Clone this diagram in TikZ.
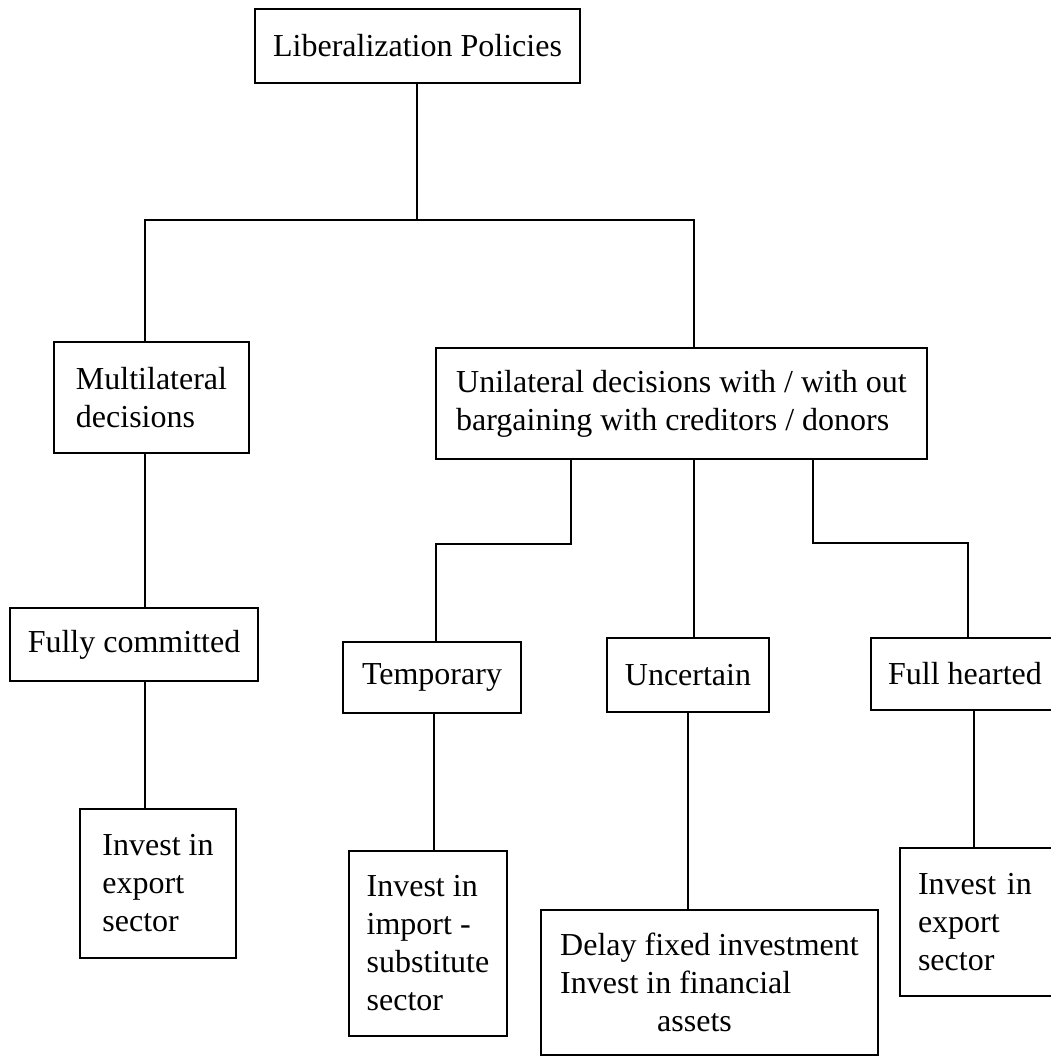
\documentclass[tikz,border=0pt]{standalone}
\usepackage{fontspec}
\setmainfont{Liberation Serif}
\begin{document}
\begin{tikzpicture}[x=0.5pt,y=-0.5pt,
  box/.style={draw, line width=1.1pt, align=left, inner sep=0pt, font=\fontsize{16}{19}\selectfont},
  conn/.style={line width=0.9pt}]
\useasboundingbox (0,0) rectangle (1051,1057);
\clip (0,0) rectangle (1051,1057);
% boxes
\node[box, align=center, minimum width=162.5pt, minimum height=37pt] (top) at (417.5,46) {Liberalization Policies};
\node[box, minimum width=97.5pt, minimum height=55.5pt] (mult) at (151.5,397.5) {Multilateral\\decisions};
\node[box, minimum width=245.5pt, minimum height=55.5pt] (uni) at (681.5,403.5) {Unilateral decisions with / with out\\bargaining with creditors / donors};
\node[box, minimum width=124pt, minimum height=36.5pt] (fully) at (134,644.5) {Fully committed};
\node[box, minimum width=89pt, minimum height=35.5pt] (temp) at (432,677.5) {Temporary};
\node[box, minimum width=81pt, minimum height=37pt] (unc) at (688,675) {Uncertain};
\node[box, minimum width=94pt, minimum height=36pt] (full) at (965,674) {Full hearted};
\node[box, minimum width=78pt, minimum height=74.5pt] (inv1) at (158,883.5) {Invest in\\export\\sector};
\node[box, minimum width=79pt, minimum height=92.5pt] (inv2) at (428,943.5) {Invest in\\import -\\substitute\\sector};
\node[box, minimum width=168.5pt, minimum height=72.5pt] (delay) at (709.5,982.5) {Delay fixed investment\\Invest in financial\\\hspace*{48.5pt}assets};
\node[box, text width=62pt, inner xsep=9pt, minimum height=74pt] (inv4) at (980,922) {Invest in\\export\\sector};
% junction coordinates
\coordinate (j) at (417,220);
\coordinate (jl) at (145,220);
\coordinate (jr) at (694,220);
\coordinate (a1) at (571,544);
\coordinate (a2) at (436,544);
\coordinate (b1) at (813,543);
\coordinate (b2) at (968,543);
\coordinate (c2) at (434,0);
\coordinate (c4) at (974,0);
% connectors
\draw[conn] (top.south -| j) -- (j);
\draw[conn] (jl |- mult.north) -- (jl) -- (jr) -- (jr |- uni.north);
\draw[conn] (jl |- mult.south) -- (jl |- fully.north);
\draw[conn] (jl |- fully.south) -- (jl |- inv1.north);
\draw[conn] (a1 |- uni.south) -- (a1) -- (a2) -- (a2 |- temp.north);
\draw[conn] (jr |- uni.south) -- (jr |- unc.north);
\draw[conn] (b1 |- uni.south) -- (b1) -- (b2) -- (b2 |- full.north);
\draw[conn] (c2 |- temp.south) -- (c2 |- inv2.north);
\draw[conn] (unc.south) -- (unc.south |- delay.north);
\draw[conn] (c4 |- full.south) -- (c4 |- inv4.north);
\end{tikzpicture}
\end{document}
